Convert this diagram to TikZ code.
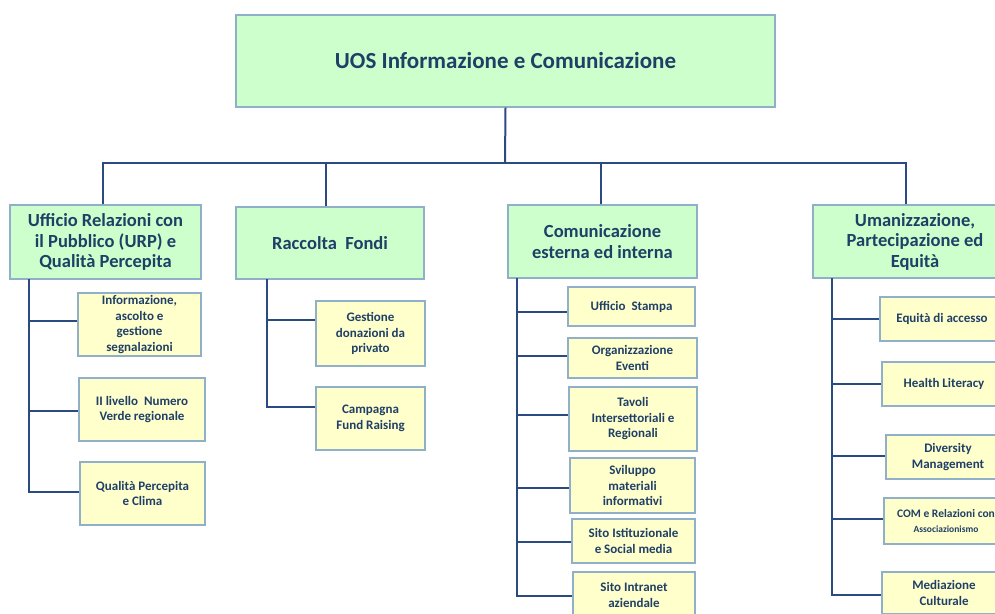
\documentclass[tikz,border=0pt]{standalone}
\usepackage{fontspec}
\setmainfont{Carlito}
\definecolor{txt}{HTML}{1F3F66}
\definecolor{gfill}{HTML}{CCFFCC}
\definecolor{yfill}{HTML}{FFFFCC}
\definecolor{bord}{HTML}{8FB0C8}
\definecolor{conn}{HTML}{2B4A82}
\begin{document}
\begin{tikzpicture}[x=1pt,y=-1pt,
  topbox/.style={draw=bord,line width=1.2pt,fill=gfill,text=txt,font=\fontsize{23}{27}\selectfont\bfseries,align=center,inner sep=0pt},
  lvbox/.style={draw=bord,line width=1.2pt,fill=gfill,text=txt,font=\fontsize{18.5}{20.5}\selectfont\bfseries,align=center,inner sep=0pt},
  chbox/.style={draw=bord,line width=1.2pt,fill=yfill,text=txt,font=\fontsize{13}{15.5}\selectfont\bfseries,align=center,inner sep=0pt},
  wire/.style={draw=conn,line width=2pt}]
\useasboundingbox (0,0) rectangle (995,613);
\clip (0,0) rectangle (995,613);
\fill[white] (0,0) rectangle (995,613);

% top
\node[topbox,minimum width=539pt,minimum height=92pt] (top) at (505.5,61) {UOS Informazione e Comunicazione};

% level 1
\node[lvbox,minimum width=191pt,minimum height=74pt] (urp) at (105.5,242) {Ufficio Relazioni con\\il Pubblico (URP) e\\Qualità Percepita};
\node[lvbox,minimum width=188pt,minimum height=72pt] (rf) at (330,243) {Raccolta\ \ Fondi};
\node[lvbox,minimum width=189pt,minimum height=73pt] (com) at (602.5,241.5) {Comunicazione\\esterna ed interna};
\node[lvbox,minimum width=204pt,minimum height=73pt] (umz) at (915,241.5) {Umanizzazione,\\Partecipazione ed\\Equità};

% bus
\coordinate (bus) at (505,163);
\draw[wire] (top.south) -- (bus);
\draw[wire] ([xshift=-2.5pt]urp.north) |- (bus);
\draw[wire] ([xshift=-4pt]rf.north) |- (bus);
\draw[wire] ([xshift=-1.5pt]com.north) |- (bus);
\draw[wire] ([xshift=-9pt]umz.north) |- (bus);

% URP children
\node[chbox,minimum width=123pt,minimum height=63pt] (u1) at (139.5,324.5) {Informazione,\\ascolto e\\gestione\\segnalazioni};
\node[chbox,minimum width=126pt,minimum height=63pt] (u2) at (142,409.5) {II livello\ \ Numero\\Verde regionale};
\node[chbox,minimum width=125pt,minimum height=63pt] (u3) at (142.5,493.5) {Qualità Percepita\\e Clima};
\coordinate (urpT) at (29,279);
\draw[wire] (urpT) |- ([yshift=3.5pt]u1.west);
\draw[wire] (urpT) |- ([yshift=-1.5pt]u2.west);
\draw[wire] (urpT) |- ([yshift=1.5pt]u3.west);

% Raccolta children
\node[chbox,minimum width=109pt,minimum height=65pt] (r1) at (370.5,333.5) {Gestione\\donazioni da\\privato};
\node[chbox,minimum width=109pt,minimum height=63pt] (r2) at (370.5,418.5) {Campagna\\Fund Raising};
\coordinate (rfT) at (267,279);
\draw[wire] (rfT) |- ([yshift=13.5pt]r1.west);
\draw[wire] (rfT) |- ([yshift=11.5pt]r2.west);

% Comunicazione children
\node[chbox,minimum width=127pt,minimum height=39pt] (c1) at (631.5,306.5) {Ufficio\ \ Stampa};
\node[chbox,minimum width=129pt,minimum height=40pt] (c2) at (632.5,358) {Organizzazione\\Eventi};
\node[chbox,minimum width=128pt,minimum height=64pt] (c3) at (633,419) {Tavoli\\Intersettoriali e\\Regionali};
\node[chbox,minimum width=125pt,minimum height=55pt] (c4) at (632.5,485.5) {Sviluppo\\materiali\\informativi};
\node[chbox,minimum width=123pt,minimum height=44pt] (c5) at (633.5,541) {Sito Istituzionale\\e Social media};
\node[chbox,minimum width=122pt,minimum height=46pt] (c6) at (634,595) {Sito Intranet\\aziendale};
\coordinate (comT) at (517,278);
\draw[wire] (comT) |- ([yshift=-5.5pt]c1.west);
\draw[wire] (comT) |- ([yshift=2pt]c2.west);
\draw[wire] (comT) |- ([yshift=4pt]c3.west);
\draw[wire] (comT) |- ([yshift=-2.5pt]c4.west);
\draw[wire] (comT) |- ([yshift=-1pt]c5.west);
\draw[wire] (comT) |- ([yshift=-1pt]c6.west);

% Umanizzazione children
\node[chbox,minimum width=124pt,minimum height=44pt] (h1) at (942,319) {Equità di accesso};
\node[chbox,minimum width=124pt,minimum height=44pt] (h2) at (944,384) {Health Literacy};
\node[chbox,minimum width=124pt,minimum height=44pt] (h3) at (948,457) {Diversity\\Management};
\node[chbox,minimum width=124pt,minimum height=46pt] (h4) at (946,521) {{\fontsize{11.5}{15.5}\selectfont COM e Relazioni con}\\{\fontsize{9.5}{15.5}\selectfont Associazionismo}};
\node[chbox,minimum width=124pt,minimum height=42pt] (h5) at (944,593) {Mediazione\\Culturale};
\coordinate (umzT) at (832,278);
\draw[wire] (umzT) |- (h1.west);
\draw[wire] (umzT) |- (h2.west);
\draw[wire] (umzT) |- ([yshift=1pt]h3.west);
\draw[wire] (umzT) |- ([yshift=2pt]h4.west);
\draw[wire] (umzT) |- ([yshift=-2pt]h5.west);
\end{tikzpicture}
\end{document}
